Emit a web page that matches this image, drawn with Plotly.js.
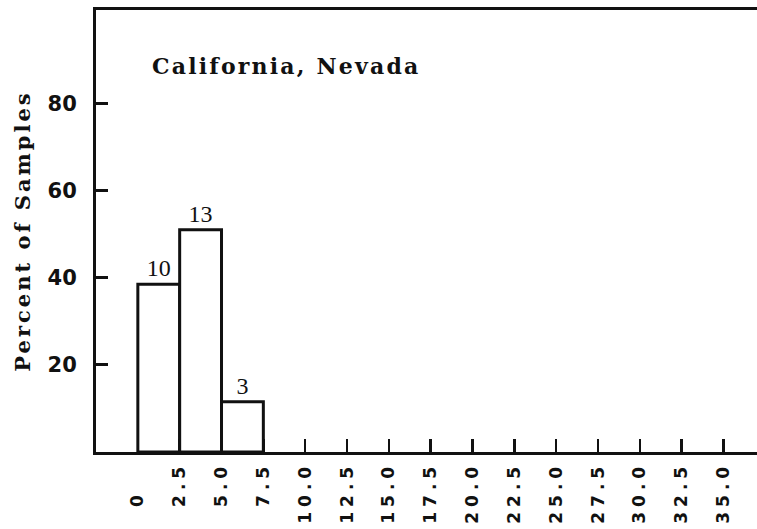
<!DOCTYPE html>
<html>
<head>
<meta charset="utf-8">
<script src="https://cdn.plot.ly/plotly-3.0.1.min.js"></script>
<style>
  html, body { margin: 0; padding: 0; background: #ffffff; }
  #chart { width: 757px; height: 529px; }
  /* typewriter-like spacing for the lettering */
  .xtick text { letter-spacing: 5px; }
  text.ytitle { letter-spacing: 3px; }
  text.annotation-text { letter-spacing: 2.2px; }
</style>
</head>
<body>
<div id="chart"></div>
<script>
// Histogram bins (left edges, width 2.5), share of samples and sample counts
const binStarts = [0, 2.5, 5.0];
const percentOfSamples = [38.5, 51, 11.5];
const sampleCounts = [10, 13, 3];

// Axis ticks
const xTickValues = [0, 2.5, 5, 7.5, 10, 12.5, 15, 17.5, 20, 22.5, 25, 27.5, 30, 32.5, 35];
const xTickLabels = ['0', '2.5', '5.0', '7.5', '10.0', '12.5', '15.0', '17.5', '20.0',
                     '22.5', '25.0', '27.5', '30.0', '32.5', '35.0'];
const yTickValues = [20, 40, 60, 80];

const panelLabel = 'California, Nevada';
const yAxisTitle = 'Percent of Samples';

const INK = '#111111';
const binWidth = 2.5;

// whole numbers get a punctuation space + figure space so they line up on the decimal point
const alignedXLabels = xTickLabels.map(s => s.indexOf('.') < 0 ? s + '\u2008\u2007' : s);

const trace = {
  type: 'bar',
  x: binStarts,
  y: percentOfSamples,
  width: binStarts.map(() => binWidth),
  offset: 0,
  marker: { color: '#ffffff', line: { color: INK, width: 3 } },
  text: sampleCounts.map(String),
  textposition: 'outside',
  constraintext: 'none',
  cliponaxis: false,
  textfont: { family: 'Liberation Serif', size: 24, color: INK },
  hoverinfo: 'skip'
};

const layout = {
  width: 757,
  height: 529,
  margin: { l: 96, r: 0, t: 10, b: 77 },
  paper_bgcolor: '#ffffff',
  plot_bgcolor: '#ffffff',
  showlegend: false,
  bargap: 0,
  xaxis: {
    range: [-2.5, 37],
    showline: true, linewidth: 3, linecolor: INK, mirror: true,
    ticks: 'inside', ticklen: 13, tickwidth: 2.5, tickcolor: INK,
    tickmode: 'array', tickvals: xTickValues, ticktext: alignedXLabels,
    tickangle: -90,
    tickfont: { family: 'DejaVu Sans', size: 17, weight: 'bold', color: INK },
    showgrid: false, zeroline: false, fixedrange: true
  },
  yaxis: {
    range: [0, 101.4],
    showline: true, linewidth: 3, linecolor: INK,
    ticks: 'inside', ticklen: 12, tickwidth: 3, tickcolor: INK,
    tickmode: 'array', tickvals: yTickValues,
    tickfont: { family: 'DejaVu Sans', size: 21, weight: 'bold', color: INK },
    ticklabelstandoff: 12,
    title: {
      text: yAxisTitle,
      font: { family: 'DejaVu Serif', size: 21, weight: 'bold', color: INK },
      standoff: 12
    },
    showgrid: false, zeroline: false, fixedrange: true
  },
  annotations: [{
    text: panelLabel,
    xref: 'paper', yref: 'paper',
    x: 0.0817, y: 0.907,
    xanchor: 'left', yanchor: 'top',
    showarrow: false,
    font: { family: 'DejaVu Serif', size: 22, weight: 'bold', color: INK }
  }]
};

Plotly.newPlot('chart', [trace], layout, { staticPlot: true, displayModeBar: false });
</script>
</body>
</html>
